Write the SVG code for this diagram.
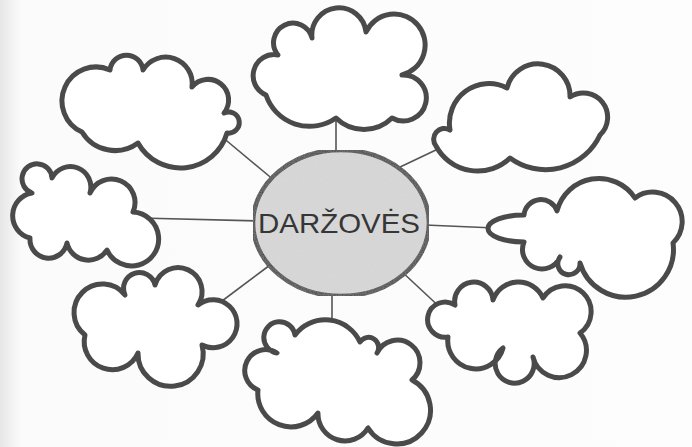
<svg xmlns="http://www.w3.org/2000/svg" width="692" height="447" viewBox="0 0 692 447">
  <defs>
    <linearGradient id="bg" x1="0" y1="0" x2="1" y2="0">
      <stop offset="0" stop-color="#e6e6e6"/>
      <stop offset="0.03" stop-color="#fbfbfb"/>
      <stop offset="1" stop-color="#fdfdfd"/>
    </linearGradient>
    <filter id="grain" x="0" y="0" width="100%" height="100%">
      <feTurbulence type="fractalNoise" baseFrequency="0.9" numOctaves="2" seed="3" result="n"/>
      <feColorMatrix in="n" type="matrix" values="0 0 0 0 0.55  0 0 0 0 0.55  0 0 0 0 0.55  0 0 0 0.35 0" result="g"/>
      <feComposite in="g" in2="SourceGraphic" operator="in" result="gc"/>
      <feMerge><feMergeNode in="SourceGraphic"/><feMergeNode in="gc"/></feMerge>
    </filter>
  </defs>
  <style>
    .cloud { fill: #ffffff; stroke: #4a4a4a; stroke-width: 5; stroke-linejoin: round; }
    .conn { stroke: #555555; stroke-width: 1.6; fill: none; }
    .hub { fill: #dadada; stroke: #3b3b3b; stroke-width: 4.5; }
    .label { font-family: "Liberation Sans", Arial, sans-serif; font-size: 28px; fill: #363636; }
  </style>
  <rect x="0" y="0" width="692" height="447" fill="url(#bg)"/>

  <g id="connectors">
    <line class="conn" x1="336" y1="100" x2="336" y2="160"/>
    <line class="conn" x1="215" y1="131" x2="275" y2="181"/>
    <line class="conn" x1="140" y1="218" x2="262" y2="221"/>
    <line class="conn" x1="398" y1="168" x2="438" y2="149"/>
    <line class="conn" x1="425" y1="225" x2="495" y2="228"/>
    <line class="conn" x1="270" y1="265" x2="218" y2="304"/>
    <line class="conn" x1="332" y1="290" x2="332" y2="330"/>
    <line class="conn" x1="400" y1="270" x2="445" y2="312"/>
  </g>

  <g id="cloud-top">
    <path class="cloud" d="M278,55 A19.5,19.5 0 1 1 312,38 A27,27 0 0 1 366,32 A31,31 0 1 1 402,75 A23,23 0 1 1 392,118 A40,40 0 0 1 336,118 A46,46 0 0 1 266,95 A21,21 0 0 1 278,55 Z"/>
  </g>
  <g id="cloud-upper-left">
    <path class="cloud" d="M82,132 A34,34 0 0 1 110,70 A16.6,16.6 0 0 1 143,70 A26.5,26.5 0 0 1 192,87 A20.6,20.6 0 0 1 224,113 A10.6,10.6 0 1 1 227,133 A48.5,48.5 0 0 1 138,143 A38.7,38.7 0 0 1 82,132 Z"/>
  </g>
  <g id="cloud-upper-right">
    <path class="cloud" d="M450,130 A39.5,39.5 0 0 1 507,88 A32,32 0 0 1 570,97 A24.3,24.3 0 0 1 600,135 A60,60 0 0 1 510,158 A47,47 0 0 1 436,146 A10.8,10.8 0 0 1 450,130 Z"/>
  </g>
  <g id="cloud-left">
    <path class="cloud" d="M30,238 A23,23 0 0 1 32,193 A15,15 0 1 1 52,178 A20.5,20.5 0 0 1 90,193 A23.5,23.5 0 0 1 133,212 A27,27 0 1 1 107,250 A22,22 0 0 1 67,243 A18.7,18.7 0 0 1 30,238 Z"/>
  </g>
  <g id="cloud-right">
    <path class="cloud" d="M524,242 A36,13.5 0 1 1 524,215 A17,17 0 0 1 557,211 A43.2,43.2 0 0 1 635,198 A29.5,29.5 0 0 1 673,243 A47.7,47.7 0 0 1 580,263 A11.1,11.1 0 1 1 560,257 A17.3,17.3 0 0 1 524,242 Z"/>
  </g>
  <g id="cloud-lower-left">
    <path class="cloud" d="M85,335 A28.5,28.5 0 1 1 125,295 A15.9,15.9 0 1 1 155,285 A24,24 0 1 1 198,305 A24,24 0 1 1 202,345 A32.6,32.6 0 1 1 138,353 A28.1,28.1 0 0 1 85,335 Z"/>
  </g>
  <g id="cloud-bottom">
    <path class="cloud" d="M258,390 A20.9,20.9 0 1 1 277,353 A15.7,15.7 0 1 1 295,335 A38.1,38.1 0 0 1 360,342 A10.1,10.1 0 0 1 377,353 A22.6,22.6 0 1 1 412,380 A33.8,33.8 0 1 1 368,428 A27,27 0 0 1 318,413 A33.2,33.2 0 0 1 258,390 Z"/>
  </g>
  <g id="cloud-lower-right">
    <path class="cloud" d="M448,337 A17.6,17.6 0 1 1 455,305 A19.2,19.2 0 1 1 493,300 A26.9,26.9 0 0 1 543,298 A26,26 0 1 1 580,333 A27.1,27.1 0 1 1 533,357 A19.5,19.5 0 1 1 503,348 A28.1,28.1 0 0 1 448,337 Z"/>
  </g>

  <g id="hub">
    <ellipse class="hub" cx="341" cy="223" rx="88" ry="73" filter="url(#grain)"/>
    <text class="label" x="258" y="233" textLength="162" lengthAdjust="spacingAndGlyphs">DARŽOVĖS</text>
  </g>
</svg>
